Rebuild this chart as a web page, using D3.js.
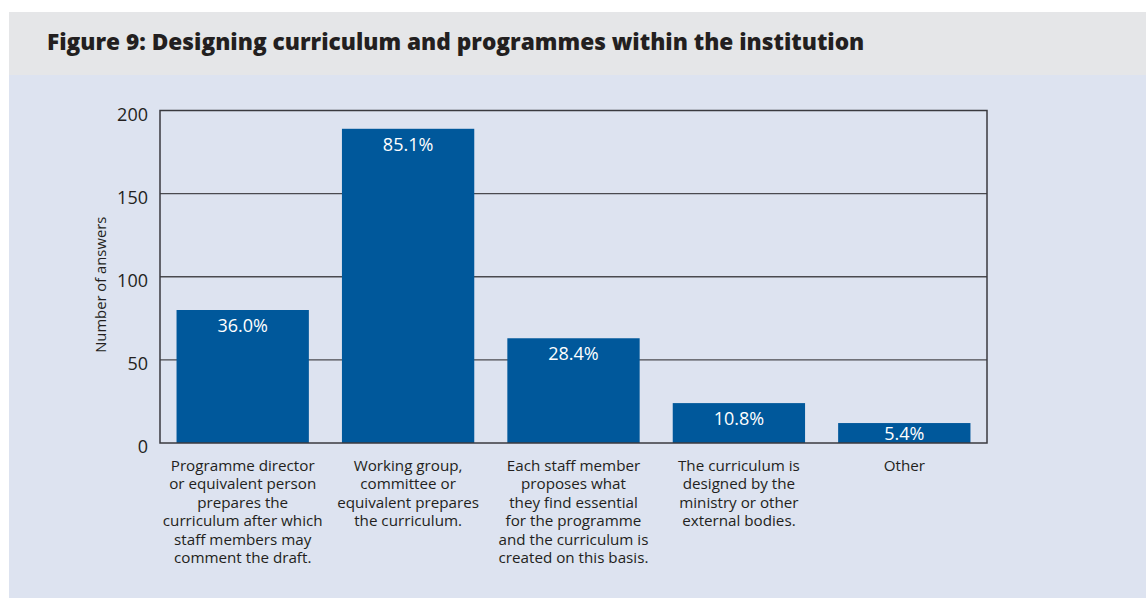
<!DOCTYPE html>
<html>
<head>
<meta charset="utf-8">
<script src="https://cdn.jsdelivr.net/npm/d3@7"></script>
<style>
  html, body { margin: 0; padding: 0; background: #ffffff; }
  svg { display: block; }
  text { font-family: "Open Sans", "Lato", "DejaVu Sans", sans-serif; }
</style>
</head>
<body>
<svg id="chart" width="1146" height="598"></svg>
<script>
// ---- Data ----
const title = "Figure 9: Designing curriculum and programmes within the institution";
const yAxisTitle = "Number of answers";
const categories = [
  ["Programme director", "or equivalent person", "prepares the", "curriculum after which", "staff members may", "comment the draft."],
  ["Working group,", "committee or", "equivalent prepares", "the curriculum."],
  ["Each staff member", "proposes what", "they find essential", "for the programme", "and the curriculum is", "created on this basis."],
  ["The curriculum is", "designed by the", "ministry or other", "external bodies."],
  ["Other"]
];
const values = [80, 189, 63, 24, 12];
const percentLabels = ["36.0%", "85.1%", "28.4%", "10.8%", "5.4%"];
const yTicks = [0, 50, 100, 150, 200];

// ---- Layout ----
const svg = d3.select("#chart");
const W = 1146, H = 598;
const plot = { left: 160, right: 987, top: 110.5, bottom: 443 };

// backgrounds
svg.append("rect").attr("x", 9).attr("y", 12).attr("width", W - 9).attr("height", 63).attr("fill", "#e5e6e8");
svg.append("rect").attr("x", 9).attr("y", 75).attr("width", W - 9).attr("height", H - 75).attr("fill", "#dde3f0");

// title
const t = svg.append("text")
  .attr("x", 47).attr("y", 50)
  .attr("font-size", 21).attr("font-weight", 800)
  .attr("fill", "#231f20")
  .text(title);
const tl = t.node().getComputedTextLength();
if (tl > 0) t.attr("font-size", 21 * 818 / tl);

// scales
const idx = d3.range(values.length);
const x = d3.scaleBand().domain(idx).range([plot.left, plot.right]).paddingInner(0.2).paddingOuter(0.1);
const y = d3.scaleLinear().domain([0, 200]).range([plot.bottom, plot.top]);

const g = svg.append("g");

// gridlines
g.selectAll("line.grid").data(yTicks.filter(d => d > 0 && d < 200)).join("line")
  .attr("class", "grid")
  .attr("x1", plot.left).attr("x2", plot.right)
  .attr("y1", d => y(d)).attr("y2", d => y(d))
  .attr("stroke", "#4a4a4f").attr("stroke-width", 1.3);

// bars
g.selectAll("rect.bar").data(values).join("rect")
  .attr("class", "bar")
  .attr("x", (d, i) => x(i)).attr("width", x.bandwidth())
  .attr("y", d => y(d)).attr("height", d => y(0) - y(d))
  .attr("fill", "#00589b");

// frame
svg.append("rect")
  .attr("x", plot.left).attr("y", plot.top)
  .attr("width", plot.right - plot.left).attr("height", plot.bottom - plot.top)
  .attr("fill", "none").attr("stroke", "#3a3a3f").attr("stroke-width", 1.5);

// bar labels
svg.selectAll("text.val").data(values).join("text")
  .attr("class", "val")
  .attr("x", (d, i) => x(i) + x.bandwidth() / 2)
  .attr("y", d => Math.min(y(d) + 15.5, (y(d) + y(0)) / 2))
  .attr("dy", "0.36em")
  .attr("text-anchor", "middle")
  .attr("font-size", 18)
  .attr("fill", "#ffffff")
  .text((d, i) => percentLabels[i]);

// y axis
const yAxis = d3.axisLeft(y).tickValues(yTicks).tickSize(0).tickPadding(12);
const ya = svg.append("g").attr("transform", `translate(${plot.left},0)`).call(yAxis);
ya.select(".domain").remove();
ya.selectAll("text")
  .attr("font-size", 18)
  .attr("fill", "#231f20")
  .attr("font-family", "\"Open Sans\", Lato, sans-serif")
  .attr("dy", "0.55em");

// y axis title
svg.append("text")
  .attr("transform", `translate(106, ${(plot.top + plot.bottom) / 2 + 8}) rotate(-90)`)
  .attr("text-anchor", "middle")
  .attr("font-size", 14.8)
  .attr("fill", "#231f20")
  .text(yAxisTitle);

// category labels
const cat = svg.selectAll("text.cat").data(categories).join("text")
  .attr("class", "cat")
  .attr("text-anchor", "middle")
  .attr("font-size", 15.2)
  .attr("fill", "#231f20");
cat.each(function(lines, i) {
  d3.select(this).selectAll("tspan").data(lines).join("tspan")
    .attr("x", x(i) + x.bandwidth() / 2)
    .attr("y", (d, j) => 471 + j * 18.4)
    .text(d => d);
});
</script>
</body>
</html>
